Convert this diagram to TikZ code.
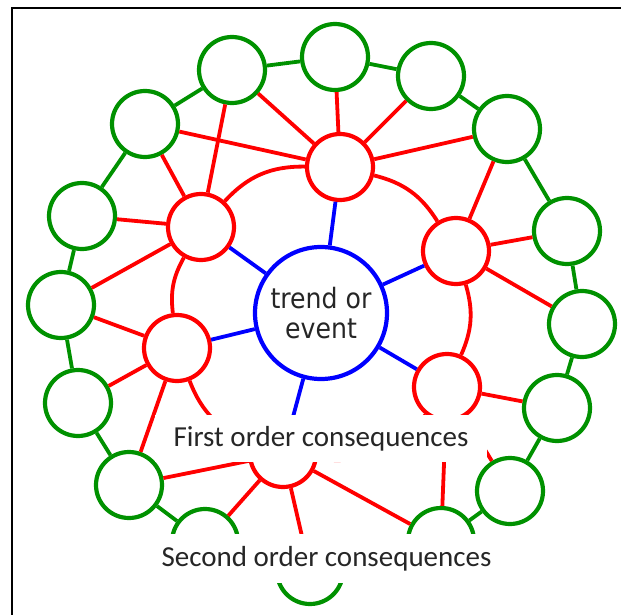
\documentclass[tikz,border=0pt]{standalone}
\usepackage{fontspec}
\usepackage{xcolor}
\setmainfont{Carlito}
\newfontfamily\hubfont[FakeStretch=0.9]{DejaVu Sans}
\newcommand{\dia}{66pt}
\newcommand{\hubdia}{132pt}
\newcommand{\outercolor}{green!57!black}
\newcommand{\innercolor}{red}
\newcommand{\hubcolor}{blue}

\begin{document}
\begin{tikzpicture}[x=(0:1pt), y=(270:1pt),
    outer/.style={circle, draw=\outercolor, line width=4.2pt, fill=white, minimum size=\dia, inner sep=0pt},
    inner/.style={circle, draw=\innercolor, line width=4.2pt, fill=white, minimum size=\dia, inner sep=0pt},
    ring/.style={draw=\outercolor, line width=3.8pt},
    spoke/.style={draw=\innercolor, line width=3.8pt},
    hubline/.style={draw=\hubcolor, line width=3.8pt},
    caption/.style={fill=white, inner sep=0pt, text=black!85, font=\fontsize{29}{32}\selectfont}]
    \useasboundingbox (0,0) rectangle (621,615);

    % frame
    \draw[line width=2pt] (12,615) -- (12,8) -- (621,8);

    % circles
    \node[circle, draw=\hubcolor, line width=4.2pt, fill=white, minimum size=\hubdia, inner sep=0pt, align=center, text=black!85, font=\hubfont\fontsize{28}{30}\selectfont] (C) at (321,313) {trend or\\event};
    \foreach \n/\x/\y in {R1/340/167, R2/456/251, R3/447/387, R4/283/454, R5/177/348, R6/201/227}
        \node[inner] (\n) at (\x,\y) {};
    \foreach \n/\x/\y in {G1/335/57, G2/431/76, G3/507/129, G4/567/231, G5/582/324, G6/557/408,
                          G7/510/491, G8/441/541, G9/310/571, G10/205/542, G11/129/485, G12/78/403,
                          G13/61/305, G14/82/216, G15/145/124, G16/232/70}
        \node[outer] (\n) at (\x,\y) {};

    % links
    \foreach \r in {1,...,6}
        \draw[hubline] (C) -- (R\r);
    \foreach \a/\b/\t in {R6/R1/24, R1/R2/22, R2/R3/20, R3/R4/30, R4/R5/24, R5/R6/18}
        \draw[spoke] (\a) to[bend left=\t] (\b);
    \foreach \r/\g in {R1/G16, R1/G15, R1/G1, R1/G2, R1/G3, R2/G3, R2/G4, R2/G5,
                       R3/G6, R3/G7, R3/G8, R4/G8, R4/G9, R4/G10, R4/G11,
                       R5/G11, R5/G12, R5/G13, R6/G13, R6/G14, R6/G15, R6/G16}
        \draw[spoke] (\r) -- (\g);
    \foreach \a/\b in {G1/G2, G2/G3, G3/G4, G4/G5, G5/G6, G6/G7, G7/G8, G8/G9,
                       G9/G10, G10/G11, G11/G12, G12/G13, G13/G14, G14/G15, G15/G16, G16/G1}
        \draw[ring] (\a) -- (\b);

    % labels
    \node[caption, minimum width=332pt, minimum height=47pt] (first) at (321,438.5) {First order consequences};
    \node[caption, minimum width=363pt, minimum height=49pt] (second) at (326.5,558.5) {Second order consequences};
\end{tikzpicture}
\end{document}
